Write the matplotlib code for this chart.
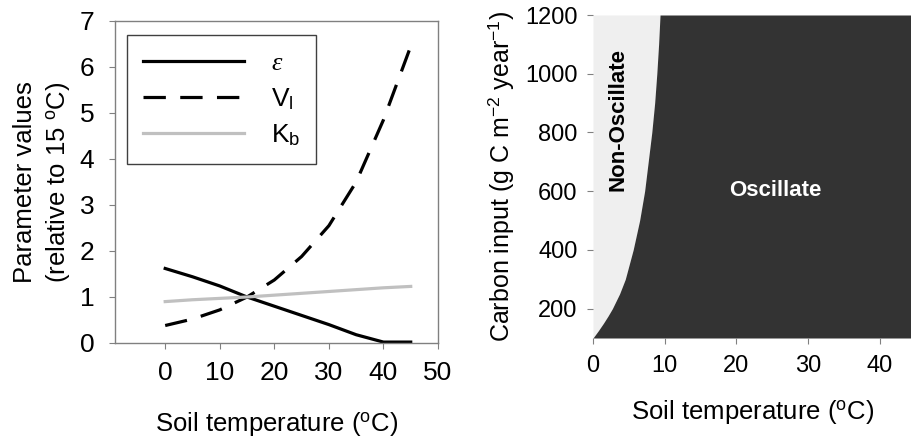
import numpy as np
import matplotlib
matplotlib.use("Agg")
import matplotlib.pyplot as plt

plt.rcParams['font.family'] = ['Liberation Sans', 'DejaVu Sans']
plt.rcParams['mathtext.fontset'] = 'custom'
plt.rcParams['mathtext.rm'] = 'Liberation Sans'
plt.rcParams['mathtext.it'] = 'Liberation Serif:italic'
plt.rcParams['mathtext.bf'] = 'Liberation Sans:bold'

# Left panel: parameter values relative to 15 C
temps = [0, 5, 10, 15, 20, 25, 30, 35, 40, 45]
eps_vals = [1.62, 1.44, 1.24, 1.0, 0.80, 0.60, 0.40, 0.18, 0.02, 0.02]
vl_vals = [0.38, 0.52, 0.72, 1.0, 1.37, 1.88, 2.55, 3.5, 4.85, 6.45]
kb_vals = [0.90, 0.94, 0.97, 1.0, 1.04, 1.08, 1.12, 1.16, 1.20, 1.23]

# Right panel: boundary between oscillating / non-oscillating regimes
carbon_input = [100, 125, 150, 175, 200, 250, 300, 400, 500, 600, 700, 800,
                900, 1000, 1100, 1200]
boundary_temp = [0.0, 0.75, 1.45, 2.1, 2.7, 3.7, 4.5, 5.6, 6.5, 7.2, 7.7, 8.2,
                 8.6, 8.9, 9.15, 9.35]

W, H = 912, 438
fig = plt.figure(figsize=(W / 100, H / 100), dpi=100)

spine_gray = '#808080'

# ---- left panel
ax1 = fig.add_axes([115 / W, 1 - 343 / H, (438 - 115) / W, (343 - 21) / H])
ax1.plot(temps, eps_vals, color='black', lw=2.3, label=r'$\varepsilon$')
ax1.plot(temps, vl_vals, color='black', lw=2.3, dashes=(7, 4.5), label=r'V$_{\rm l}$')
ax1.plot(temps, kb_vals, color='#c0c0c0', lw=2.3, label=r'K$_{\rm b}$')
ax1.set_xlim(-9.2, 50)
ax1.set_ylim(0, 7)
ax1.set_xticks([0, 10, 20, 30, 40, 50])
ax1.set_yticks(range(8))
for s in ax1.spines.values():
    s.set_color(spine_gray)
    s.set_linewidth(1.0)
ax1.tick_params(axis='both', colors=spine_gray, labelcolor='black', length=4,
                labelsize=19)
ax1.tick_params(axis='x', pad=9)
ax1.tick_params(axis='y', pad=11)
ax1.set_xlabel(r'Soil temperature ($^{\rm o}$C)', fontsize=18.5, labelpad=18)
ax1.set_ylabel('Parameter values\n' + r'(relative to 15 $^{\rm o}$C)',
               fontsize=18.5, labelpad=5, linespacing=1.35)
leg = ax1.legend(loc='upper left', bbox_to_anchor=(0.037, 0.9565), fontsize=19,
                 handlelength=3.85, handletextpad=1.0, labelspacing=0.42,
                 borderpad=0.6, borderaxespad=0, fancybox=False, framealpha=1)
leg.get_frame().set_edgecolor('#404040')
leg.get_frame().set_linewidth(1.0)

# ---- right panel
ax2 = fig.add_axes([593 / W, 1 - 338 / H, (912 - 593) / W, (338 - 15) / H])
ax2.fill_betweenx(carbon_input, 0, boundary_temp, color='#efefef', lw=0)
ax2.fill_betweenx(carbon_input, boundary_temp, 45, color='#333333', lw=0)
ax2.set_xlim(0, 44.5)
ax2.set_ylim(100, 1200)
ax2.set_xticks([0, 10, 20, 30, 40])
ax2.set_yticks([200, 400, 600, 800, 1000, 1200])
for s in ax2.spines.values():
    s.set_visible(False)
ax2.tick_params(axis='both', colors=spine_gray, labelcolor='black', length=4,
                labelsize=17)
ax2.tick_params(axis='x', pad=8)
ax2.tick_params(axis='y', pad=7)
ax2.set_xlabel(r'Soil temperature ($^{\rm o}$C)', fontsize=18.5, labelpad=15)
ax2.set_ylabel(r'Carbon input (g C m$^{-2}$ year$^{-1}$)', fontsize=18, labelpad=7)
ax2.text(3.5, 845, 'Non-Oscillate', rotation=90, ha='center', va='center',
         fontsize=16, fontweight='bold', color='black')
ax2.text(25.4, 603, 'Oscillate', ha='center', va='center',
         fontsize=16, fontweight='bold', color='white')

fig.savefig('out.png', dpi=100)
